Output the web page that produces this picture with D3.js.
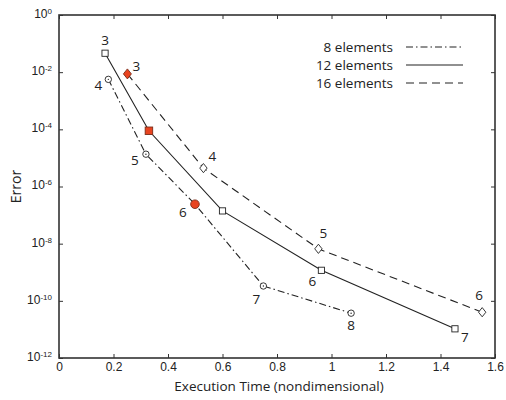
<!DOCTYPE html>
<html>
<head>
<meta charset="utf-8">
<script src="https://cdn.jsdelivr.net/npm/d3@7"></script>
<style>
  body { margin: 0; background: #fff; }
  svg { display: block; }
</style>
</head>
<body>
<div class="chart"></div>
<script>
// data
const time8 = [0.181, 0.319, 0.499, 0.75, 1.072];
const error8 = [5.6e-3, 1.35e-5, 2.4e-7, 3.3e-10, 3.7e-11];
const order8 = ["4", "5", "6", "7", "8"];

const time12 = [0.169, 0.33, 0.6, 0.963, 1.453];
const error12 = [4.6e-2, 8.9e-5, 1.4e-7, 1.17e-9, 1.05e-11];
const order12 = ["3", "", "", "6", "7"];

const time16 = [0.251, 0.53, 0.952, 1.553];
const error16 = [8.7e-3, 4.4e-6, 6.6e-9, 4.0e-11];
const order16 = ["3", "4", "5", "6"];

// which point of each series is highlighted (red)
const highlight8 = 2;
const highlight12 = 1;
const highlight16 = 0;

const seriesNames = ["8 elements", "12 elements", "16 elements"];
const xTicks = [0, 0.2, 0.4, 0.6, 0.8, 1, 1.2, 1.4, 1.6];
const yExponents = [0, -2, -4, -6, -8, -10, -12];

const w = 506;
const h = 400;
const margin = { left: 59, right: 11, top: 15, bottom: 42 };
const red = "#e8431f";
const axisColor = "#333";

// label offsets (dx, dy) for the order numbers
const offsets8 = [[-10, 6], [-11, 6], [-12, 8], [-7, 13], [0, 12]];
const offsets12 = [[0, -13], [0, 0], [0, 0], [-9, 11], [10, 8]];
const offsets16 = [[9, -8], [9, -12], [5, -16], [-3, -17]];

const svg = d3
    .select(".chart")
    .append("svg")
    .attr("width", w)
    .attr("height", h);

const xScale = d3
    .scaleLinear()
    .domain([0, 1.6])
    .range([margin.left, w - margin.right]);

const yScale = d3
    .scaleLog()
    .domain([1e-12, 1])
    .range([h - margin.bottom, margin.top]);

const tickFont = "'Liberation Sans', Arial, sans-serif";
const labelFont = "'Open Sans', 'Noto Sans', sans-serif";

// axes, ticks pointing inward
const xAxis = d3.axisBottom(xScale).tickValues(xTicks).tickSizeInner(-4).tickSizeOuter(0)
    .tickPadding(4).tickFormat((d) => d3.format("")(d));
const yValues = yExponents.map((e) => Math.pow(10, e));
const yAxis = d3.axisLeft(yScale).tickValues(yValues).tickSizeInner(-4).tickSizeOuter(0)
    .tickPadding(6).tickFormat(() => "");

const gx = svg.append("g")
    .attr("transform", `translate(0,${h - margin.bottom})`)
    .call(xAxis);
gx.selectAll("text").attr("font-family", tickFont).attr("font-size", 12).attr("fill", "#222");

const gy = svg.append("g")
    .attr("transform", `translate(${margin.left},0)`)
    .call(yAxis);

// superscripted power labels
gy.selectAll(".tick text").each(function (d) {
    const t = d3.select(this);
    const e = Math.round(Math.log10(d));
    t.attr("font-family", tickFont).attr("font-size", 12).attr("fill", "#222")
        .attr("x", -7).attr("dy", "0.2em");
    t.append("tspan").text("10");
    t.append("tspan").attr("dy", "-0.5em").attr("font-size", 8).text(e);
});

// top and right ticks
svg.append("g")
    .attr("transform", `translate(0,${margin.top})`)
    .call(d3.axisTop(xScale).tickValues(xTicks).tickSizeInner(-4).tickSizeOuter(0).tickFormat(() => ""));
svg.append("g")
    .attr("transform", `translate(${w - margin.right},0)`)
    .call(d3.axisRight(yScale).tickValues(yValues).tickSizeInner(-4).tickSizeOuter(0).tickFormat(() => ""));

svg.selectAll(".domain").remove();
svg.selectAll(".tick line").attr("stroke", axisColor);

// frame
svg.append("rect")
    .attr("x", margin.left)
    .attr("y", margin.top)
    .attr("width", w - margin.left - margin.right)
    .attr("height", h - margin.top - margin.bottom)
    .attr("fill", "none")
    .attr("stroke", axisColor)
    .attr("stroke-width", 1.6);

// axis titles
svg.append("text")
    .attr("x", 279)
    .attr("y", 391)
    .attr("text-anchor", "middle")
    .attr("font-family", labelFont)
    .attr("font-size", 13.5)
    .attr("fill", "#222")
    .text("Execution Time (nondimensional)");

svg.append("text")
    .attr("transform", `translate(21,${(margin.top + h - margin.bottom) / 2}) rotate(-90)`)
    .attr("text-anchor", "middle")
    .attr("font-family", labelFont)
    .attr("font-size", 14)
    .attr("fill", "#222")
    .text("Error");

const line = d3.line()
    .x((d) => xScale(d.t))
    .y((d) => yScale(d.e));

const series = [
    { name: seriesNames[0], t: time8, e: error8, o: order8, hi: highlight8, dash: "7,3,1.5,3", marker: "circle", offs: offsets8 },
    { name: seriesNames[1], t: time12, e: error12, o: order12, hi: highlight12, dash: null, marker: "square", offs: offsets12 },
    { name: seriesNames[2], t: time16, e: error16, o: order16, hi: highlight16, dash: "8,5", marker: "diamond", offs: offsets16 },
];

series.forEach((s) => {
    const pts = s.t.map((t, i) => ({ t, e: s.e[i], o: s.o[i], i }));
    const g = svg.append("g");

    g.append("path")
        .datum(pts)
        .attr("d", line)
        .attr("fill", "none")
        .attr("stroke", "#222")
        .attr("stroke-width", 1.1)
        .attr("stroke-dasharray", s.dash);

    const m = g.selectAll(".pt")
        .data(pts)
        .join("g")
        .attr("transform", (d) => `translate(${xScale(d.t)},${yScale(d.e)})`);

    m.each(function (d) {
        const sel = d3.select(this);
        const isHi = d.i === s.hi;
        const fill = isHi ? red : "#fff";
        const stroke = isHi ? "#7a2c18" : "#222";
        if (s.marker === "circle") {
            sel.append("circle").attr("r", isHi ? 4.3 : 3.2)
                .attr("fill", fill).attr("stroke", stroke).attr("stroke-width", 0.9);
            if (!isHi) sel.append("circle").attr("r", 0.7).attr("fill", "#222");
        } else if (s.marker === "square") {
            const a = isHi ? 7.5 : 6.2;
            sel.append("rect").attr("x", -a / 2).attr("y", -a / 2).attr("width", a).attr("height", a)
                .attr("fill", fill).attr("stroke", stroke).attr("stroke-width", 0.9);
        } else {
            const r = isHi ? 5 : 4.6;
            sel.append("path").attr("d", `M0,${-r}L${r * 0.8},0L0,${r}L${-r * 0.8},0Z`)
                .attr("fill", fill).attr("stroke", stroke).attr("stroke-width", 0.9);
        }
    });

    g.selectAll(".lbl")
        .data(pts.filter((d) => d.o !== ""))
        .join("text")
        .attr("x", (d) => xScale(d.t) + s.offs[d.i][0])
        .attr("y", (d) => yScale(d.e) + s.offs[d.i][1])
        .attr("dy", "0.35em")
        .attr("text-anchor", "middle")
        .attr("font-family", labelFont)
        .attr("font-size", 13.5)
        .attr("fill", "#222")
        .text((d) => d.o);
});

// legend
const legend = svg.append("g");
series.forEach((s, i) => {
    const y = 47 + i * 18;
    legend.append("text")
        .attr("x", 393)
        .attr("y", y)
        .attr("dy", "0.35em")
        .attr("text-anchor", "end")
        .attr("font-family", labelFont)
        .attr("font-size", 13.5)
        .attr("fill", "#222")
        .text(s.name);
    legend.append("line")
        .attr("x1", 406).attr("x2", 463)
        .attr("y1", y).attr("y2", y)
        .attr("stroke", "#222")
        .attr("stroke-width", 1.1)
        .attr("stroke-dasharray", s.dash);
});
</script>
</body>
</html>
